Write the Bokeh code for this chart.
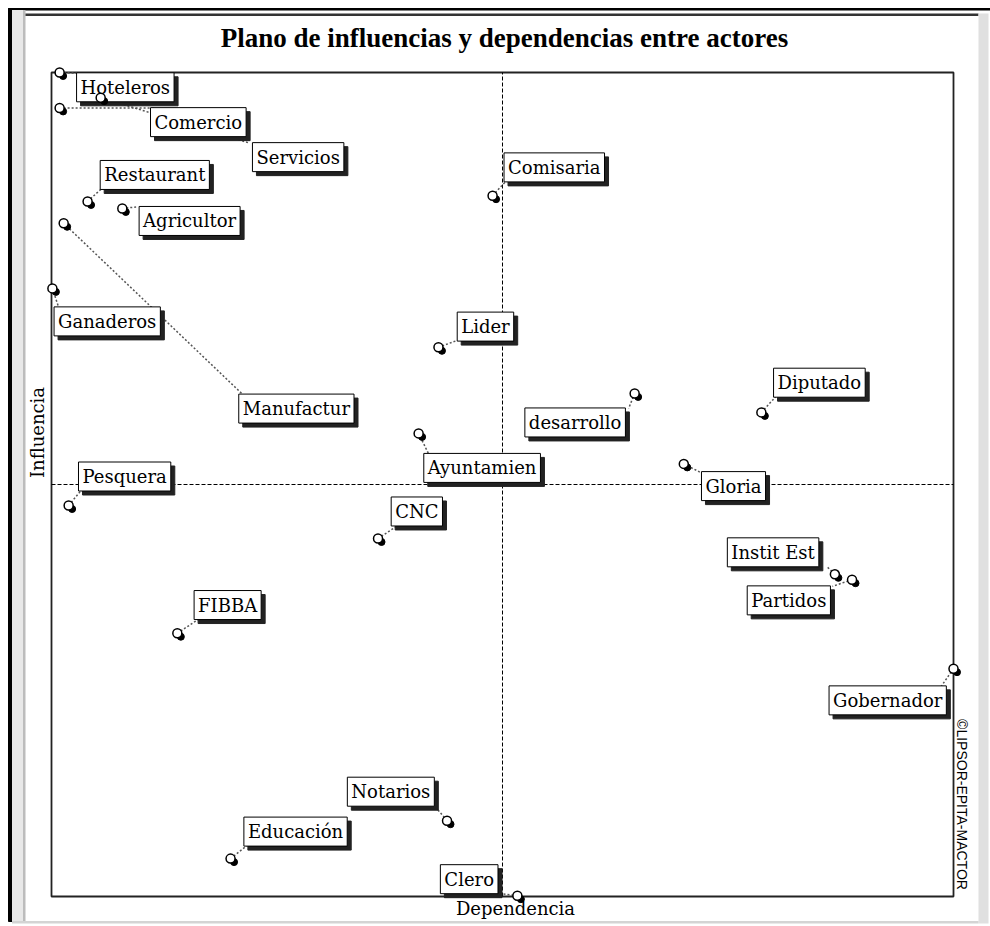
import numpy as np
from bokeh.plotting import figure
from bokeh.models import ColumnDataSource, Range1d
from bokeh.core.properties import value
from bokeh.embed import file_html
from bokeh.resources import INLINE

# ---------------- data ----------------
actors = ["Hoteleros", "Comercio", "Servicios", "Restaurant", "Agricultor",
          "Manufactur", "Ganaderos", "Pesquera", "Lider", "Comisaria",
          "Diputado", "Gloria", "Instit Est", "Partidos", "Gobernador",
          "desarrollo", "Ayuntamien", "CNC", "FIBBA", "Notarios",
          "Educación", "Clero"]
dependencia = [0.018, 0.018, 0.109, 0.080, 0.157, 0.027, 0.002, 0.038, 0.858,
               0.978, 1.574, 1.402, 1.737, 1.775, 2.000, 1.293, 0.814, 0.724,
               0.279, 0.877, 0.397, 1.033]
influencia = [2.000, 1.914, 1.939, 1.687, 1.670, 1.634, 1.476, 0.949, 1.333,
              1.701, 1.175, 1.050, 0.782, 0.769, 0.553, 1.221, 1.124, 0.869,
              0.639, 0.184, 0.092, 0.002]
mean_dependencia = 1.0
mean_influencia = 1.0

title_text = "Plano de influencias y dependencias entre actores"
x_label = "Dependencia"
y_label = "Influencia"
credit = "©LIPSOR-EPITA-MACTOR"

# ---------------- layout (pixels) ----------------
# label box centre offsets from each point (right, down) in screen pixels
label_dx = [65.7, 138.7, 197.5, 67.2, 67.3, 232.7, 54.8, 56, 47, 61.7, 58,
            49.7, -61.8, -63.2, -65.8, -59.5, 63.5, 38.8, 50.3, -56.2, 65, -48.2]
label_dy = [14.8, 14.2, 59.5, -26.5, 12.5, 185.3, 33, -29, -20.7, -28.3, -29.7,
            22.2, -22, 20.7, 31.7, 29, 34.5, -27, -28.2, -29, -27, -16.5]

W, H = 990, 926
L, R, T, B = 51, 37, 72, 30
XMIN, XMAX, YMIN, YMAX = 0.0, 2.0, 0.0, 2.0
sx = (W - L - R) / (XMAX - XMIN)
sy = (H - T - B) / (YMAX - YMIN)


def cx(px):
    return XMIN + (px - L) / sx


def cy(py):
    return YMAX - (py - T) / sy


FONT = "DejaVu Serif"
FS = 18
CHAR_W = 0.55 * FS
PAD = 4
HALF_H = 14

p = figure(width=W, height=H, output_backend="svg", toolbar_location=None,
           x_range=Range1d(XMIN - L / sx, XMAX + R / sx),
           y_range=Range1d(YMIN - B / sy, YMAX + T / sy),
           x_axis_location=None, y_axis_location=None, min_border=0)
p.grid.visible = False
p.outline_line_color = None
p.background_fill_color = "white"
p.border_fill_color = "white"

# window-like decoration
p.quad(left=[cx(8)], right=[cx(990)], top=[cy(8)], bottom=[cy(9.5)], color="black")
p.quad(left=[cx(8)], right=[cx(11.5)], top=[cy(8)], bottom=[cy(921)], color="black")
p.quad(left=[cx(11.5)], right=[cx(22.5)], top=[cy(9.5)], bottom=[cy(921)], color="#e8e8e8", line_color=None)
p.quad(left=[cx(22.5)], right=[cx(25)], top=[cy(9.5)], bottom=[cy(921)], color="#bcbcbc", line_color=None)
p.quad(left=[cx(25)], right=[cx(978)], top=[cy(13)], bottom=[cy(15.5)], color="#333333", line_color=None)
p.quad(left=[cx(978)], right=[cx(988)], top=[cy(13)], bottom=[cy(923)], color="#e0e0e0", line_color=None)
p.quad(left=[cx(11.5)], right=[cx(978)], top=[cy(920.5)], bottom=[cy(923)], color="#d4d4d4", line_color=None)

# plot box
p.quad(left=[XMIN], right=[XMAX], top=[YMAX], bottom=[YMIN], fill_color=None,
       line_color="#222222", line_width=1.8)

# mean lines
p.segment(x0=[mean_dependencia, XMIN], y0=[YMIN, mean_influencia],
          x1=[mean_dependencia, XMAX], y1=[YMAX, mean_influencia],
          line_color="black", line_width=1, line_dash="4 2")

x = np.array(dependencia)
y = np.array(influencia)
dx = np.array(label_dx)
dy = np.array(label_dy)
half_w = np.array([len(a) * CHAR_W / 2 + PAD for a in actors])
corner_dx = dx - np.sign(dx) * half_w
corner_dy = dy - np.sign(dy) * HALF_H

src = ColumnDataSource(dict(
    name=actors, x=x, y=y,
    lx=x + dx / sx, ly=y - dy / sy,
    shx=x + (dx + 4) / sx, shy=y - (dy + 4) / sy,
    ex=x + corner_dx / sx, ey=y - corner_dy / sy,
    dotx=x + 3.5 / sx, doty=y - 3.5 / sy,
))

# connectors
p.segment(x0="x", y0="y", x1="ex", y1="ey", source=src,
          line_color="#555555", line_width=1.5, line_dash="2 2")

# label shadows and labels
p.text(x="shx", y="shy", text="name", source=src, text_font=value(FONT),
       text_font_size=f"{FS}px", text_align="center", text_baseline="middle",
       text_color="#222222", background_fill_color="#222222",
       border_line_color="#222222", padding=PAD)
p.text(x="lx", y="ly", text="name", source=src, text_font=value(FONT),
       text_font_size=f"{FS}px", text_align="center", text_baseline="middle",
       text_color="black", background_fill_color="white",
       border_line_color="black", border_line_width=1, padding=PAD)

# markers
p.scatter(x="dotx", y="doty", source=src, size=7, color="black")
p.scatter(x="x", y="y", source=src, size=9, fill_color="white",
          line_color="black", line_width=1.5)

# texts
p.text(x=[cx(504)], y=[cy(37)], text=[title_text], text_font=value("Liberation Serif"),
       text_font_size="27px", text_font_style="bold", text_align="center",
       text_baseline="middle", text_color="black")
p.text(x=[cx(515)], y=[cy(908)], text=[x_label], text_font=value(FONT),
       text_font_size=f"{FS}px", text_align="center", text_baseline="middle",
       text_color="black")
p.text(x=[cx(37)], y=[cy(432)], text=[y_label], text_font=value(FONT),
       text_font_size=f"{FS}px", text_align="center", text_baseline="middle",
       angle=np.pi / 2, text_color="black")
p.text(x=[cx(961)], y=[cy(804)], text=[credit], text_font=value("Liberation Sans"),
       text_font_size="14px", text_align="center", text_baseline="middle",
       angle=-np.pi / 2, text_color="black")

open("out.html", "w").write(file_html(p, INLINE))
